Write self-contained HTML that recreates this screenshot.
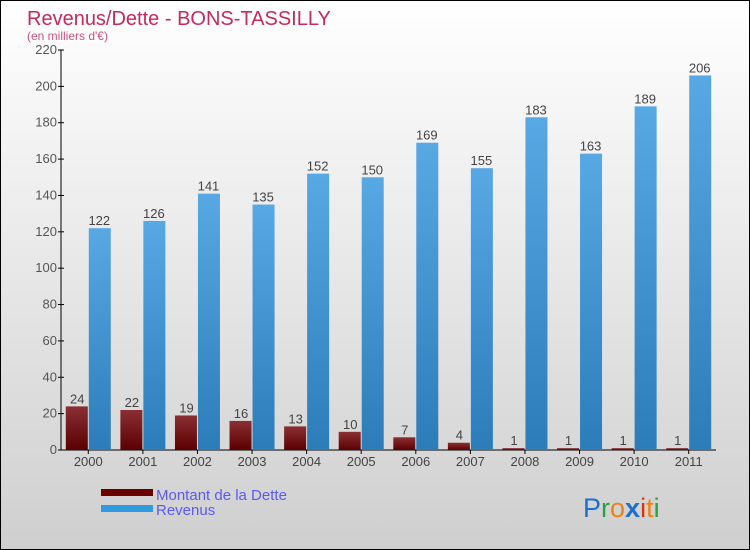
<!DOCTYPE html>
<html><head><meta charset="utf-8"><style>
body{margin:0}
#c{width:748px;height:548px;border:1px solid #000;background:linear-gradient(#fff,#cfcfcf);position:relative;overflow:hidden;font-family:"Liberation Sans",sans-serif}
</style></head><body>
<div id="c">
<svg id="s" width="748" height="548" xmlns="http://www.w3.org/2000/svg" font-family="'Liberation Sans',sans-serif">
<defs>
<linearGradient id="gr" x1="0" y1="0" x2="0" y2="1"><stop offset="0" stop-color="#8a3034"/><stop offset="1" stop-color="#5a0000"/></linearGradient>
<linearGradient id="gb" x1="0" y1="0" x2="0" y2="1"><stop offset="0" stop-color="#58a8e4"/><stop offset="1" stop-color="#2b7cb8"/></linearGradient>
</defs>
<text x="26" y="24" font-size="20" fill="#c8285a">Revenus/Dette - BONS-TASSILLY</text>
<text x="26" y="39" font-size="12" fill="#d0507a">(en milliers d'€)</text>
<g id="g"></g>
<rect x="100" y="488" width="52" height="7" fill="#6a0000"/>
<text x="155" y="499" font-size="15" fill="#5a5af0">Montant de la Dette</text>
<rect x="100" y="504" width="52" height="7" fill="#2f9ae0"/>
<text x="155" y="514" font-size="15" fill="#5a5af0">Revenus</text>
<g font-size="27">
<text x="582" y="516"><tspan fill="#1a6fd0">P</tspan><tspan fill="#2aa040">r</tspan><tspan fill="#f08010">o</tspan><tspan fill="#1a6fd0" font-weight="bold">x</tspan><tspan fill="#e03010">i</tspan><tspan fill="#f08010">t</tspan><tspan fill="#2aa040">i</tspan></text>
</g>
</svg>
</div>
<script>
const years=["2000","2001","2002","2003","2004","2005","2006","2007","2008","2009","2010","2011"];
const dette=[24,22,19,16,13,10,7,4,1,1,1,1];
const revenus=[122,126,141,135,152,150,169,155,183,163,189,206];
const ticks=[0,20,40,60,80,100,120,140,160,180,200,220];
const NS="http://www.w3.org/2000/svg";
const g=document.getElementById('g');
const x0=60,x1=715,yb=449,yt=49,ymax=220;
const band=(x1-x0)/years.length;
const y=v=>yb-(v/ymax)*(yb-yt);
const cx=i=>x0+band*(i+0.5);
function mk(t,a,txt){const e=document.createElementNS(NS,t);for(const k in a)e.setAttribute(k,a[k]);if(txt!==undefined)e.textContent=txt;g.appendChild(e);return e;}
let ax=mk('line',{x1:x0,y1:yt,x2:x0,y2:yb,stroke:'#000'});


let bx=mk('line',{x1:x0,y1:yb,x2:x1,y2:yb,stroke:'#000'});


ticks.forEach(t=>{
 let l=mk('line',{x1:x0-3,y1:y(t),x2:x0+3,y2:y(t),stroke:'#000'});
 
 
 let tx=mk('text',{x:x0-4,y:y(t)+4,'font-size':13,fill:'#555','text-anchor':'end'},t);
 
 
});
const bw=22;
years.forEach((yr,i)=>{
 const c=cx(i);
 let tk=mk('line',{x1:c,y1:yb,x2:c,y2:yb+4,stroke:'#000'});
 
 
 let lb=mk('text',{x:c,y:yb+16,'font-size':13,fill:'#444','text-anchor':'middle'},yr);
 
 
 let r=mk('rect',{x:c-bw-0.5,y:y(dette[i]),width:bw,height:yb-y(dette[i]),fill:'url(#gr)'});
 
 
 let b=mk('rect',{x:c+0.5,y:y(revenus[i]),width:bw,height:yb-y(revenus[i]),fill:'url(#gb)'});
 
 
 let t1=mk('text',{x:c-bw/2,y:y(dette[i])-3,'font-size':13,fill:'#444','text-anchor':'middle'},dette[i]);
 
 
 let t2=mk('text',{x:c+bw/2,y:y(revenus[i])-3,'font-size':13,fill:'#444','text-anchor':'middle'},revenus[i]);
 
 
});
</script>
</body></html>
